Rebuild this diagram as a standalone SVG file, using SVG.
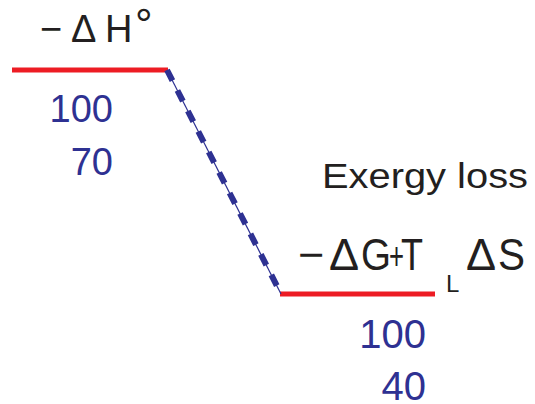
<svg xmlns="http://www.w3.org/2000/svg" width="535" height="404" viewBox="0 0 535 404">
<style>
.lvl{stroke:#ed1c24;stroke-width:5;fill:none}
.t{font-family:"Liberation Sans",Arial,sans-serif;fill:#231f20}
.n{font-family:"Liberation Sans",Arial,sans-serif;fill:#2e3192;text-anchor:end}
</style>
<rect width="535" height="404" fill="#fff"/>
<g id="level-top">
<line class="lvl" x1="12" y1="70" x2="168" y2="70"/>
<text class="t" font-size="38" y="42"><tspan x="40">−</tspan><tspan x="71">Δ</tspan><tspan x="105">H</tspan><tspan x="135" y="40" font-size="44">°</tspan></text>
<text class="n" font-size="38" x="113" y="122">100</text>
<text class="n" font-size="38" x="113" y="175">70</text>
</g>
<g id="level-bottom">
<line class="lvl" x1="280" y1="294" x2="435" y2="294"/>
<text class="t" font-size="35" x="322" y="188" textLength="206" lengthAdjust="spacingAndGlyphs">Exergy loss</text>
<g class="t" font-size="45">
<text x="298" y="270">−</text>
<text x="329" y="270">Δ</text>
<text x="361" y="270" textLength="30" lengthAdjust="spacingAndGlyphs">G</text>
<text x="389" y="269" font-size="38" textLength="15" lengthAdjust="spacingAndGlyphs">+</text>
<text x="401" y="270" textLength="22" lengthAdjust="spacingAndGlyphs">T</text>
<text x="446" y="292" font-size="24">L</text>
<text x="466" y="270">Δ</text>
<text x="498" y="270" textLength="27" lengthAdjust="spacingAndGlyphs">S</text>
</g>
<text class="n" font-size="40" x="426" y="348">100</text>
<text class="n" font-size="40" x="426" y="400">40</text>
</g>
<g id="connectors">
<line x1="167" y1="70" x2="281" y2="294" stroke="#2e3192" stroke-width="1.2"/>
<line x1="167" y1="70" x2="281" y2="294" stroke="#2e3192" stroke-width="6" stroke-dasharray="12 11"/>
</g>
</svg>
